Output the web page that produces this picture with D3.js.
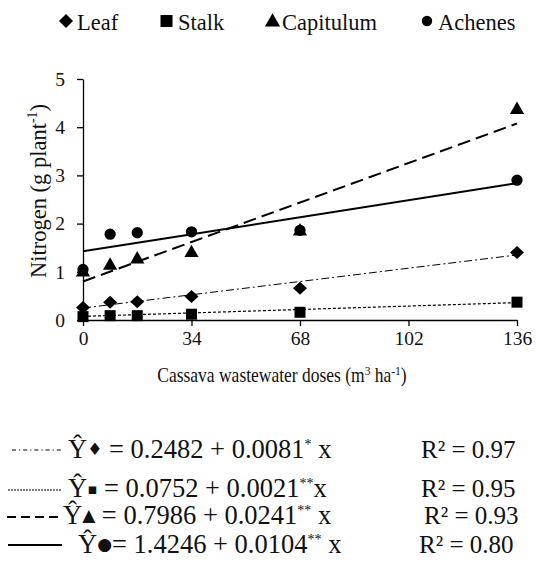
<!DOCTYPE html>
<html><head><meta charset="utf-8">
<script src="https://cdn.jsdelivr.net/npm/d3@7"></script>
<style>body{margin:0;background:#fff;}</style></head>
<body><svg id="c" width="536" height="573"></svg>
<script>
const doses = [0, 8.5, 17, 34, 68, 136];
const seriesNames = ["Leaf", "Stalk", "Capitulum", "Achenes"];
const leaf = [0.26, 0.37, 0.38, 0.49, 0.66, 1.40];
const stalk = [0.07, 0.09, 0.09, 0.12, 0.16, 0.37];
const capitulum = [0.99, 1.13, 1.26, 1.39, 1.84, 4.36];
const achenes = [1.05, 1.78, 1.81, 1.83, 1.86, 2.90];
const intercepts = [0.2482, 0.0752, 0.7986, 1.4246];
const slopes = [0.0081, 0.0021, 0.0241, 0.0104];
const xTicks = [0, 34, 68, 102, 136];
const yTicks = [0, 1, 2, 3, 4, 5];
const eqIntercepts = ["0.2482", "0.0752", "0.7986", "1.4246"];
const eqSlopes = ["0.0081", "0.0021", "0.0241", "0.0104"];
const eqSig = ["*", "**", "**", "**"];
const r2 = ["0.97", "0.95", "0.93", "0.80"];

const F = '"Liberation Serif"';
const values = [leaf, stalk, capitulum, achenes];
const svg = d3.select("#c");
const x = d3.scaleLinear().domain([0, 136]).range([83, 517]);
const y = d3.scaleLinear().domain([0, 5]).range([320, 79]);

// axes
const gx = svg.append("g").attr("transform", "translate(0,320)")
  .call(d3.axisBottom(x).tickValues(xTicks).tickFormat(d3.format("d")).tickSize(6).tickSizeOuter(0).tickPadding(5));
const gy = svg.append("g").attr("transform", "translate(83,0)")
  .call(d3.axisLeft(y).tickValues(yTicks).tickFormat(d3.format("d")).tickSize(6).tickSizeOuter(0).tickPadding(12));
[gx, gy].forEach(g => {
  g.attr("font-family", null).attr("font-size", null);
  g.select(".domain").attr("stroke", "#000").attr("stroke-width", 1.3);
  g.selectAll(".tick line").attr("stroke", "#000").attr("stroke-width", 1.3);
  g.selectAll(".tick text").attr("fill", "#111").attr("font-family", F).attr("font-size", 19.5);
});

// fit lines
const styles = [
  {dash: "8,3,2,3", w: 1},
  {dash: "3,2", w: 1.2},
  {dash: "13,6", w: 2},
  {dash: null, w: 2}
];
seriesNames.forEach((s, i) => {
  svg.append("line")
    .attr("x1", x(0)).attr("y1", y(intercepts[i]))
    .attr("x2", x(136)).attr("y2", y(intercepts[i] + slopes[i] * 136))
    .attr("stroke", "#000").attr("stroke-width", styles[i].w)
    .attr("stroke-dasharray", styles[i].dash);
});

// markers
const diamond = "M0,-6.5L7,0L0,6.5L-7,0Z";
const symbols = [
  diamond,
  d3.symbol().type(d3.symbolSquare).size(121)(),
  d3.symbol().type(d3.symbolTriangle).size(88)(),
  d3.symbol().type(d3.symbolCircle).size(100)()
];
[3, 0, 1, 2].forEach(i => {
  svg.append("g").selectAll("path").data(doses.map((d, j) => [d, values[i][j]]))
    .join("path")
    .attr("d", symbols[i])
    .attr("transform", d => `translate(${x(d[0])},${y(d[1])})`)
    .attr("fill", "#000");
});

function txt(xp, yp, size, sy) {
  const t = svg.append("text").attr("font-size", size).attr("font-family", F).attr("fill", "#111");
  if (sy) t.attr("transform", `translate(${xp},${yp}) scale(1,${sy})`);
  else t.attr("x", xp).attr("y", yp);
  return t;
}
function sp(t, s, size, dy, fam) {
  const e = t.append("tspan").text(s).attr("font-family", fam || F);
  if (size) e.attr("font-size", size);
  if (dy) e.attr("dy", dy);
  return e;
}

// axis titles
const xt = txt(282, 382, 17.5, 1.15).attr("text-anchor", "middle");
sp(xt, "Cassava wastewater doses (m", 17.5);
sp(xt, "3", 11.5, -6);
sp(xt, " ha", 17.5, 6);
sp(xt, "-1", 11.5, -6);
sp(xt, ")", 17.5, 6);

const yt = svg.append("text").attr("font-size", 22.5).attr("font-family", F).attr("fill", "#111")
  .attr("transform", "translate(46,191) rotate(-90)").attr("text-anchor", "middle");
sp(yt, "Nitrogen (g plant", 22.5);
sp(yt, "-1", 14, -9);
sp(yt, ")", 22.5, 9);

// top legend
const legSymX = [66, 166.5, 272.5, 427];
const legTextX = [77, 178, 282, 438];
const legShapes = [
  "M0,-7L7,0L0,7L-7,0Z",
  d3.symbol().type(d3.symbolSquare).size(144)(),
  d3.symbol().type(d3.symbolTriangle).size(100)(),
  d3.symbol().type(d3.symbolCircle).size(85)()
];
seriesNames.forEach((s, i) => {
  svg.append("path").attr("d", legShapes[i]).attr("transform", `translate(${legSymX[i]},${i === 2 ? 22 : 21})`).attr("fill", "#000");
  txt(legTextX[i], 30, 22.5).text(s);
});

// equations
const eqSym = ["\u2666", "\u25AA", "\u25B2", "\u25CF"];
const eqY = [458, 497, 524, 553];
const eqX = [68, 68, 63, 78];
const r2X = [421, 421, 424, 419];
const sampleY = [450, 490, 517, 545];
const sampleX = [[12, 62], [8, 62], [7, 60], [8, 62]];
const sampleStyle = [{dash: "4,3,1.2,3", w: 1}, {dash: "2,1", w: 1}, {dash: "9,5", w: 2}, {dash: null, w: 2}];
const eqSize = 26.5;
seriesNames.forEach((s, i) => {
  svg.append("line").attr("x1", sampleX[i][0]).attr("x2", sampleX[i][1])
    .attr("y1", sampleY[i]).attr("y2", sampleY[i])
    .attr("stroke", "#000").attr("stroke-width", sampleStyle[i].w)
    .attr("stroke-dasharray", sampleStyle[i].dash);
  const t = txt(eqX[i], eqY[i], eqSize);
  sp(t, "\u0176", eqSize);
  sp(t, eqSym[i], i === 1 ? 15 : 17, -3, '"DejaVu Sans"');
  sp(t, (i === 3 ? "" : " ") + "= " + eqIntercepts[i] + " + " + eqSlopes[i], eqSize, 3);
  sp(t, eqSig[i], 14, -9);
  sp(t, (i === 1 ? "" : " ") + "x", eqSize, 9);
  txt(r2X[i], eqY[i], 25).text("R\u00B2 = " + r2[i]);
});
</script></body></html>
